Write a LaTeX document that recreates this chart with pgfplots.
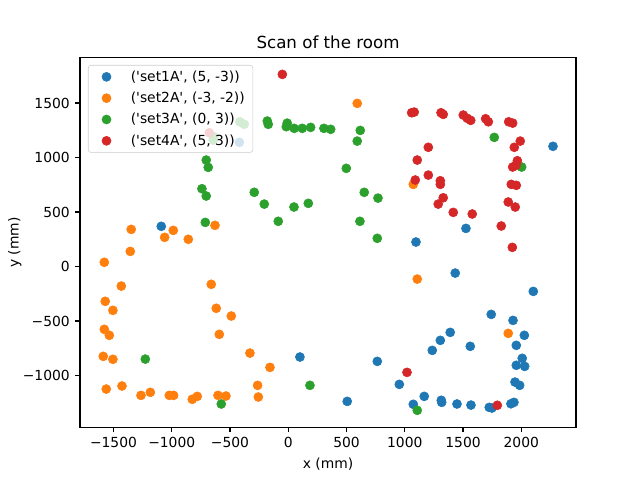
\documentclass[border=0pt]{standalone}
\usepackage{pgfplots}
\pgfplotsset{compat=1.18}
\usepackage{fontspec}
\setmainfont{DejaVu Sans}
\definecolor{c0}{HTML}{1F77B4}
\definecolor{c1}{HTML}{FF7F0E}
\definecolor{c2}{HTML}{2CA02C}
\definecolor{c3}{HTML}{D62728}
\newcommand{\q}{\textquotesingle}
\begin{document}
\begin{tikzpicture}
\path[use as bounding box] (0pt,0pt) rectangle (480pt,360pt);
\begin{axis}[
  at={(60pt,39.6pt)}, anchor=south west,
  scale only axis, width=372pt, height=277.2pt,
  xmin=-1787.5, xmax=2469.5, ymin=-1474, ymax=1917,
  axis line style={line width=0.83pt},
  every tick/.style={line width=0.83pt, black},
  tick align=outside, major tick length=3.65pt,
  xtick pos=left, ytick pos=left,
  xtick={-1500,-1000,-500,0,500,1000,1500,2000},
  xticklabels={−1500,−1000,−500,0,500,1000,1500,2000},
  ytick={-1000,-500,0,500,1000,1500},
  yticklabels={−1000,−500,0,500,1000,1500},
  tick label style={font=\fontsize{10.4}{12}\selectfont},
  xticklabel style={yshift=-0.5pt},
  yticklabel style={xshift=-0.5pt},
  xlabel={x (mm)}, ylabel={y (mm)},
  xlabel style={yshift=-1pt},
  ylabel style={yshift=-5.8pt},
  label style={font=\fontsize{10.4}{12}\selectfont},
  title={Scan of the room},
  title style={font=\fontsize{12.5}{14}\selectfont, yshift=-3.2pt},
  legend cell align=left,
  legend style={at={(0.0161,0.98)}, anchor=north west,
    draw=black!20, rounded corners=2pt, fill=white, fill opacity=0.8, text opacity=1,
    font=\fontsize{10.4}{12}\selectfont, row sep=2.6pt, inner xsep=4pt, inner ysep=2pt},
  legend image code/.code={\path (0pt,0pt) (25.5pt,0pt); \draw[mark size=3.4pt, fill opacity=1, draw opacity=1] plot coordinates {(9.5pt,0pt)};},
]
\addplot[only marks, mark=*, mark size=3.4pt, color=c0] coordinates {
(-1090,369) (-420,1140) (2272,1103) (1096,225) (1525,350) (1433,-60) (2103,-228)
(1742,-439) (1929,-494) (2026,-631) (1390,-604) (1305,-677) (1236,-769) (1562,-732)
(1957,-723) (2008,-842) (1957,-906) (2029,-916) (764,-870) (953,-1081) (1946,-1060)
(1986,-1090) (506,-1237) (1167,-1191) (1073,-1264) (1313,-1227) (1317,-1246)
(1448,-1261) (1568,-1271) (1725,-1292) (1748,-1298) (1911,-1259) (1937,-1246) (100,-830)
};
\addlegendentry{(\q set1A\q, (5, -3))}
\addplot[only marks, mark=*, mark size=3.4pt, color=c1] coordinates {
(592,1497) (1073,754) (1107,-115) (1888,-613) (-1348,341) (-987,332) (-1061,268)
(-858,250) (-629,378) (-1356,139) (-1579,39) (-1433,-179) (-661,-163) (-1571,-319)
(-1505,-402) (-618,-383) (-489,-454) (-1579,-576) (-1536,-631) (-592,-622) (-1588,-824)
(-1505,-851) (-329,-794) (-157,-925) (-263,-1090) (-257,-1197) (-1562,-1124) (-1427,-1096)
(-1264,-1182) (-1184,-1154) (-1021,-1182) (-984,-1182) (-824,-1218) (-781,-1191)
(-603,-1182) (-535,-1188)
};
\addlegendentry{(\q set2A\q, (-3, -2))}
\addplot[only marks, mark=*, mark size=3.4pt, color=c2] coordinates {
(-415,1328) (-378,1305) (-638,1191) (-644,1160) (-180,1335) (-172,1305) (-9,1316)
(-17,1283) (51,1268) (120,1268) (192,1277) (306,1268) (364,1259) (618,1249) (592,1151)
(-704,977) (-687,910) (498,901) (-741,714) (-704,647) (-292,681) (-206,573) (652,681)
(770,628) (49,546) (172,580) (-86,415) (-712,405) (615,415) (764,259) (-1227,-849)
(186,-1090) (-575,-1261) (1107,-1319) (1768,1185) (2003,913)
};
\addlegendentry{(\q set3A\q, (0, 3))}
\addplot[only marks, mark=*, mark size=3.4pt, color=c3] coordinates {
(-51,1763) (-678,1227) (1059,1411) (1081,1417) (1311,1411) (1330,1396) (1502,1390)
(1536,1360) (1566,1341) (1694,1356) (1717,1328) (1892,1328) (1926,1316) (1991,1151)
(1940,1094) (1202,1094) (1107,977) (1966,971) (1954,928) (1926,913) (1202,839)
(1090,794) (1305,787) (1305,754) (1914,754) (1957,745) (1330,631) (1287,573) (1416,497)
(1579,482) (1888,592) (1948,546) (1828,372) (1923,176) (1019,-971) (1794,-1273)
};
\addlegendentry{(\q set4A\q, (5, 3))}
\end{axis}
\end{tikzpicture}
\end{document}
